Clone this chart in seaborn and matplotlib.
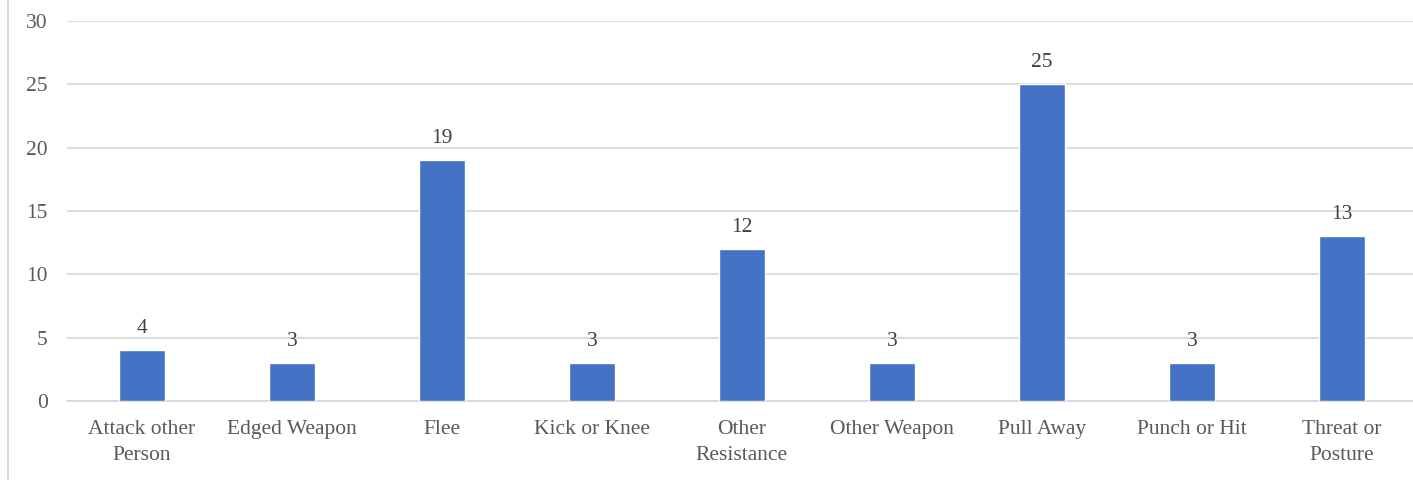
import matplotlib
matplotlib.use("Agg")
import matplotlib.pyplot as plt
import pandas as pd
import seaborn as sns
from matplotlib.lines import Line2D

categories = [
    "Attack other\nPerson",
    "Edged Weapon",
    "Flee",
    "Kick or Knee",
    "Other\nResistance",
    "Other Weapon",
    "Pull Away",
    "Punch or Hit",
    "Threat or\nPosture",
]
counts = [4, 3, 19, 3, 12, 3, 25, 3, 13]
y_ticks = [0, 5, 10, 15, 20, 25, 30]

df = pd.DataFrame({"category": categories, "count": counts})

sns.set_style("white")
plt.rcParams["font.family"] = ["Liberation Serif", "DejaVu Serif"]

fig = plt.figure(figsize=(14.13, 4.80), dpi=100)
ax = fig.add_axes([67 / 1413, 79 / 480, 1350 / 1413, 380 / 480])

sns.barplot(data=df, x="category", y="count", color="#4472c4",
            saturation=1, width=0.31, ax=ax, zorder=3)

# value labels above bars
for i, v in enumerate(counts):
    ax.text(i, v + 0.95, str(v), ha="center", va="bottom",
            fontsize=15.5, color="#404040")

ax.set_ylim(0, 30)
ax.set_xlim(-0.5, len(categories) - 0.5)
ax.set_yticks(y_ticks)
ax.yaxis.grid(True, color="#d9d9d9", linewidth=1.3, zorder=0)
ax.set_xlabel("")
ax.set_ylabel("")
for s in ["top", "right", "left"]:
    ax.spines[s].set_visible(False)
ax.spines["bottom"].set_color("#d9d9d9")
ax.spines["bottom"].set_linewidth(1.3)
ax.tick_params(axis="both", length=0, labelsize=15.5, labelcolor="#595959")
ax.tick_params(axis="y", pad=14)
ax.tick_params(axis="x", pad=14)
for lbl in ax.get_xticklabels():
    lbl.set_linespacing(1.5)

fig.add_artist(Line2D([7.5 / 1413, 7.5 / 1413], [0, 1], color="#d9d9d9",
                      linewidth=1.5, transform=fig.transFigure))

fig.savefig("out.png", dpi=100)
